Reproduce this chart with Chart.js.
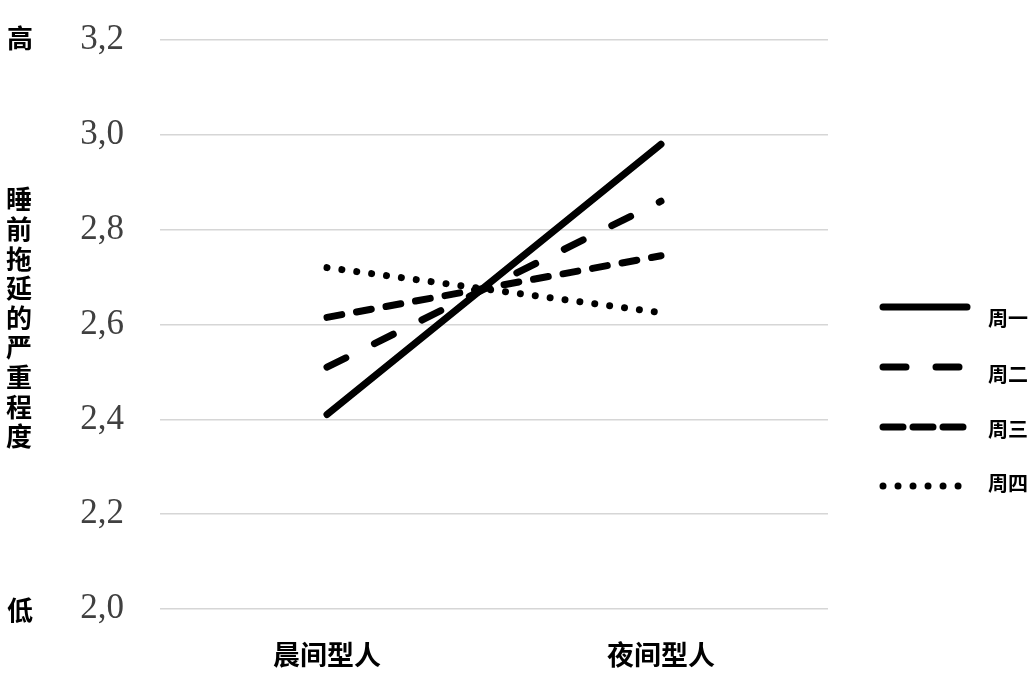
<!DOCTYPE html>
<html>
<head>
<meta charset="utf-8">
<script src="https://cdn.jsdelivr.net/npm/chart.js@4.4.1/dist/chart.umd.min.js"></script>
<style>
html,body{margin:0;padding:0;background:#fff;}
#wrap{width:1032px;height:679px;position:relative;}
</style>
</head>
<body>
<div id="wrap"><canvas id="c" width="1032" height="679"></canvas></div>
<script>
const categories = ['晨间型人', '夜间型人'];
const seriesNames = ['周一', '周二', '周三', '周四'];
const mondayValues = [2.41, 2.98];
const tuesdayValues = [2.51, 2.86];
const wednesdayValues = [2.615, 2.745];
const thursdayValues = [2.72, 2.625];
const yTicks = [2.0, 2.2, 2.4, 2.6, 2.8, 3.0, 3.2];
const yTitleTop = '高';
const yTitleBottom = '低';
const yTitle = '睡前拖延的严重程度';

const CJK = '"Noto Sans CJK SC", "Noto Sans", sans-serif';

const dashes = [[], [21, 32], [15, 15], [0.01, 15]];
const legendDashes = [[], [23, 30], [20, 10], [0.01, 15]];
const widths = [7, 7, 7, 7];
const allValues = [mondayValues, tuesdayValues, wednesdayValues, thursdayValues];

const datasets = seriesNames.map((n, i) => ({
  label: n,
  data: allValues[i],
  borderColor: '#000',
  backgroundColor: '#000',
  borderWidth: widths[i],
  borderDash: dashes[i],
  borderCapStyle: 'round',
  pointRadius: 0,
  pointHoverRadius: 0,
  tension: 0,
  fill: false
}));

const sideText = {
  id: 'sideText',
  afterDraw(chart) {
    const ctx = chart.ctx;
    const y = chart.scales.y;
    ctx.save();
    ctx.fillStyle = '#000';
    ctx.textAlign = 'center';
    ctx.textBaseline = 'middle';
    ctx.font = 'bold 26px ' + CJK;
    ctx.fillText(yTitleTop, 20, y.getPixelForValue(yTicks[yTicks.length - 1]) - 2);
    ctx.fillText(yTitleBottom, 20, y.getPixelForValue(yTicks[0]) + 1);
    const chars = Array.from(yTitle);
    const step = 29.6;
    const mid = 318;
    chars.forEach((ch, k) => {
      ctx.fillText(ch, 19, mid + (k - (chars.length - 1) / 2) * step);
    });
    // legend
    const legX0 = 880, legX1 = 970, textX = 988;
    const lineYs = [307, 367, 427, 486];
    const textYs = [318, 374, 429, 483];
    chart.data.datasets.forEach((ds, i) => {
      ctx.save();
      ctx.strokeStyle = ds.borderColor;
      ctx.lineWidth = ds.borderWidth;
      ctx.lineCap = 'round';
      ctx.setLineDash(legendDashes[i]);
      ctx.beginPath();
      ctx.moveTo(legX0 + 3, lineYs[i]);
      ctx.lineTo(legX1 - 3, lineYs[i]);
      ctx.stroke();
      ctx.restore();
      ctx.font = 'bold 20px ' + CJK;
      ctx.textAlign = 'left';
      ctx.fillStyle = '#000';
      ctx.fillText(ds.label, textX, textYs[i]);
    });
    ctx.restore();
  }
};

new Chart(document.getElementById('c'), {
  type: 'line',
  data: { labels: categories, datasets },
  options: {
    responsive: false,
    animation: false,
    events: [],
    layout: { padding: { left: 78, right: 204, top: 40, bottom: 0 } },
    plugins: { legend: { display: false }, tooltip: { enabled: false } },
    scales: {
      x: {
        offset: true,
        grid: { display: false, drawTicks: false },
        border: { display: false },
        afterFit(axis) { axis.height = 70; axis.paddingLeft = 0; axis.paddingRight = 0; },
        ticks: {
          padding: 30,
          color: '#000',
          font: { family: CJK, size: 27, weight: 'bold' }
        }
      },
      y: {
        min: yTicks[0],
        max: yTicks[yTicks.length - 1],
        afterBuildTicks(axis) { axis.ticks = yTicks.map(v => ({ value: v })); },
        afterFit(axis) { axis.width = 82; axis.paddingTop = 0; axis.paddingBottom = 0; },
        grid: { color: '#d6d6d6', lineWidth: 1.5, drawTicks: false },
        border: { display: false },
        ticks: {
          padding: 36,
          color: '#404040',
          font: { family: '"Liberation Serif", "Times New Roman", serif', size: 35 },
          callback: v => Number(v).toFixed(1).replace('.', ',')
        }
      }
    }
  },
  plugins: [sideText]
});
</script>
</body>
</html>
